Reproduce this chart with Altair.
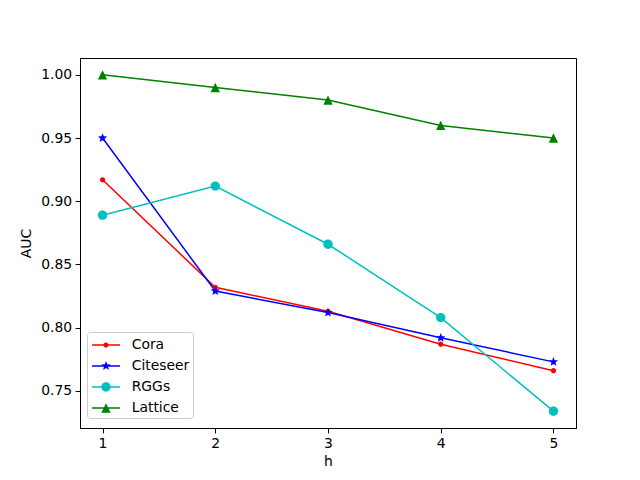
import math
import altair as alt
import pandas as pd

h_values = [1, 2, 3, 4, 5]
series_names = ["Cora", "Citeseer", "RGGs", "Lattice"]
cora = [0.917, 0.832, 0.813, 0.787, 0.766]
citeseer = [0.950, 0.829, 0.812, 0.792, 0.773]
rggs = [0.889, 0.912, 0.866, 0.808, 0.734]
lattice = [1.000, 0.990, 0.980, 0.960, 0.950]
colors = ["#ff0000", "#0000ff", "#00bfbf", "#008000"]
x_ticks = [1, 2, 3, 4, 5]
y_ticks = [0.75, 0.80, 0.85, 0.90, 0.95, 1.00]

rows = []
for name, vals in zip(series_names, [cora, citeseer, rggs, lattice]):
    for h, v in zip(h_values, vals):
        rows.append({"h": h, "AUC": v, "series": name})
df = pd.DataFrame(rows)


def f(v):
    return f"{v:.3f}"


def circle(rpx, U, cx=0.0):
    r = rpx / U
    return (f"M{f(cx - r)},0A{f(r)},{f(r)} 0 1,1 {f(cx + r)},0"
            f"A{f(r)},{f(r)} 0 1,1 {f(cx - r)},0Z")


def star(Rpx, rpx, U, cx=0.0):
    R, r = Rpx / U, rpx / U
    pts = []
    for k in range(10):
        ang = math.radians(-90 + 36 * k)
        rad = R if k % 2 == 0 else r
        pts.append((cx + rad * math.cos(ang), rad * math.sin(ang)))
    return "M" + "L".join(f"{f(x)},{f(y)}" for x, y in pts) + "Z"


def tri(hpx, U, cx=0.0):
    hh = hpx / U
    return f"M{f(cx)},{f(-hh)}L{f(cx + hh)},{f(hh)}L{f(cx - hh)},{f(hh)}Z"


def marker_set(U, cx=0.0):
    return [circle(2.6, U, cx), star(4.9, 2.1, U, cx),
            circle(4.67, U, cx), tri(4.67, U, cx)]


# plot markers: symbol size 784 -> 14 px per unit
markers = marker_set(14.0)
# legend symbols: symbol size 400 -> 10 px per unit; 28 px line from -0.8 to 2.0
LU = 10.0
x0, x1 = -0.8, 2.0
hw = 0.75 / LU
line_path = f"M{f(x0)},{f(-hw)}L{f(x1)},{f(-hw)}L{f(x1)},{f(hw)}L{f(x0)},{f(hw)}Z"
legend_syms = [line_path + m for m in marker_set(LU, (x0 + x1) / 2)]

x_scale = alt.Scale(domain=[0.8, 5.2], nice=False, zero=False)
y_scale = alt.Scale(domain=[0.7207, 1.0133], nice=False, zero=False)

X = alt.X("h:Q", scale=x_scale,
          axis=alt.Axis(values=x_ticks, format="d", title="h"))
Y = alt.Y("AUC:Q", scale=y_scale,
          axis=alt.Axis(values=y_ticks, format=".2f", title="AUC"))

base = alt.Chart(df)

lines = base.mark_line(strokeWidth=1.5).encode(
    x=X, y=Y,
    color=alt.Color("series:N", sort=series_names,
                    scale=alt.Scale(domain=series_names, range=colors), legend=None),
    order=alt.Order("h:Q"),
)

points = base.mark_point(filled=True, opacity=1, size=784).encode(
    x=X, y=Y,
    color=alt.Color("series:N", sort=series_names,
                    scale=alt.Scale(domain=series_names, range=colors), legend=None),
    shape=alt.Shape("series:N", sort=series_names,
                    scale=alt.Scale(domain=series_names, range=markers), legend=None),
)

legend_layer = base.transform_filter("datum.h < 0").mark_point(
    filled=True, opacity=1
).encode(
    x=X, y=Y,
    color=alt.Color("series:N", sort=series_names,
                    scale=alt.Scale(domain=series_names, range=colors),
                    legend=alt.Legend(title=None)),
    shape=alt.Shape("series:N", sort=series_names,
                    scale=alt.Scale(domain=series_names, range=legend_syms),
                    legend=alt.Legend(title=None)),
)

chart = alt.layer(lines, points, legend_layer).resolve_scale(
    color="independent", shape="independent"
).properties(
    width=496, height=370,
    autosize=alt.AutoSizeParams(type="none"),
    padding={"left": 72, "top": 50, "right": 56, "bottom": 44},
).configure_view(
    stroke="black", strokeWidth=1
).configure_axis(
    grid=False,
    domainColor="black", domainWidth=1,
    tickColor="black", tickSize=4.9, tickWidth=1,
    labelColor="black", labelFont="DejaVu Sans", labelFontSize=13.9,
    labelPadding=3.5,
    titleColor="black", titleFont="DejaVu Sans", titleFontSize=13.9,
    titleFontWeight="normal",
).configure_axisX(titlePadding=4).configure_axisY(titlePadding=7).configure_legend(
    orient="none", legendX=7, legendY=274,
    fillColor="white", strokeColor="#cccccc", cornerRadius=3,
    padding=3, rowPadding=4,
    symbolSize=400, symbolStrokeWidth=0,
    labelFont="DejaVu Sans", labelFontSize=13.9, labelColor="black",
    labelOffset=21.7,
)

chart.save("out.html", embed_options={"renderer": "svg", "actions": False})
